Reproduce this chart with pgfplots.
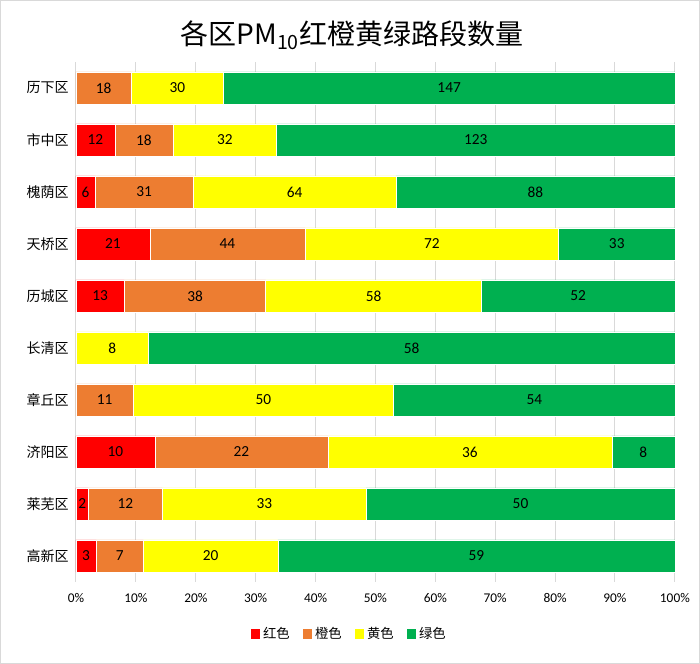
\documentclass[border=0pt]{standalone}
\usepackage{pgfplots}
\usepackage{pgfplotstable}
\pgfplotsset{compat=1.18}
\usepackage{fontspec}
\setmainfont{Carlito}
\newfontfamily\cjk{Noto Sans CJK SC}
\definecolor{cR}{HTML}{FF0000}
\definecolor{cO}{HTML}{ED7D31}
\definecolor{cY}{HTML}{FFFF00}
\definecolor{cG}{HTML}{00B050}
\definecolor{gridc}{HTML}{D9D9D9}
\pgfplotstableread{
name r o y g
A 0 18 30 147
B 12 18 32 123
C 6 31 64 88
D 21 44 72 33
E 13 38 58 52
F 0 0 8 58
G 0 11 50 54
H 10 22 36 8
I 2 12 33 50
J 3 7 20 59
}\datatab
\begin{document}
\begin{tikzpicture}
\draw[gridc, line width=0.75pt] (0.375pt,0.375pt) rectangle (524.625pt,497.625pt);
\node[font=\cjk\fontsize{21}{24}\selectfont] at (264pt,471.75pt) {各区PM\textsubscript{10}红橙黄绿路段数量};
\begin{axis}[
  at={(57pt,61.5pt)}, anchor=south west,
  scale only axis, width=449.25pt, height=390pt,
  xbar stacked, bar width=0.62,
  xmin=0, xmax=100.02, ymin=-0.5, ymax=9.5, y dir=reverse,
  xtick={0,10,...,100},
  xticklabel={\pgfmathprintnumber{\tick}\%},
  ytick={0,...,9},
  yticklabels={{\cjk 历下区},{\cjk 市中区},{\cjk 槐荫区},{\cjk 天桥区},{\cjk 历城区},{\cjk 长清区},{\cjk 章丘区},{\cjk 济阳区},{\cjk 莱芜区},{\cjk 高新区}},
  /pgf/number format/assume math mode=true,
  xmajorgrids, grid style={gridc, line width=0.75pt},
  axis line style={draw=none}, tick style={draw=none},
  tick label style={font=\fontsize{10}{12}\selectfont},
  yticklabel style={font=\cjk\fontsize{10.5}{12}\selectfont, xshift=-2pt},
  xticklabel style={yshift=-5pt},
  point meta=explicit,
  nodes near coords={\pgfmathfloatifflags{\pgfplotspointmeta}{0}{}{\pgfmathprintnumber{\pgfplotspointmeta}}},
  every node near coord/.append style={font=\fontsize{11.5}{13}\selectfont, text=black},
  legend style={at={(0.457,-0.1)}, anchor=center, legend columns=-1, draw=none, font=\cjk\fontsize{10}{12}\selectfont, /tikz/every even column/.append style={column sep=8pt}},
  legend image code/.code={\fill[#1,draw=none] (0pt,-3.5pt) rectangle (7pt,3.5pt);},
]
\addplot[fill=cR, draw=white, line width=0.4pt] table[x expr={100*\thisrow{r}/(\thisrow{r}+\thisrow{o}+\thisrow{y}+\thisrow{g})}, y expr=\coordindex, meta=r] {\datatab};
\addplot[fill=cO, draw=white, line width=0.4pt] table[x expr={100*\thisrow{o}/(\thisrow{r}+\thisrow{o}+\thisrow{y}+\thisrow{g})}, y expr=\coordindex, meta=o] {\datatab};
\addplot[fill=cY, draw=white, line width=0.4pt] table[x expr={100*\thisrow{y}/(\thisrow{r}+\thisrow{o}+\thisrow{y}+\thisrow{g})}, y expr=\coordindex, meta=y] {\datatab};
\addplot[fill=cG, draw=white, line width=0.4pt] table[x expr={100*\thisrow{g}/(\thisrow{r}+\thisrow{o}+\thisrow{y}+\thisrow{g})}, y expr=\coordindex, meta=g] {\datatab};
\legend{红色,橙色,黄色,绿色}
\end{axis}
\end{tikzpicture}
\end{document}
